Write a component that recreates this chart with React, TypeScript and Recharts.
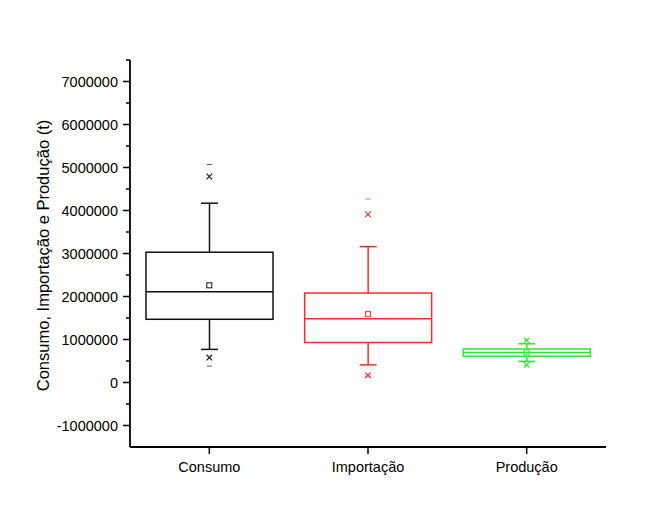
import { ComposedChart, Bar, Scatter, XAxis, YAxis } from "recharts";

// box plot statistics (t)
const categories = ["Consumo", "Importação", "Produção"];
const q1 = [1470000, 930000, 610000];
const median = [2110000, 1480000, 700000];
const q3 = [3030000, 2080000, 780000];
const whiskerLow = [770000, 410000, 490000];
const whiskerHigh = [4170000, 3160000, 900000];
const mean = [2260000, 1590000, 700000];
const p1 = [580000, 170000, 410000];
const p99 = [4790000, 3910000, 980000];
const minV = [380000, 150000, 400000];
const maxV = [5070000, 4270000, 990000];
const colors = ["#111111", "#ff2a2a", "#2ee62e"];

const yTicks = [-1000000, 0, 1000000, 2000000, 3000000, 4000000, 5000000, 6000000, 7000000];
const yMinorTicks = [-500000, 500000, 1500000, 2500000, 3500000, 4500000, 5500000, 6500000, 7500000];

const data = categories.map((name, i) => ({
  pos: i + 1,
  name,
  q1: q1[i],
  median: median[i],
  q3: q3[i],
  whiskerLow: whiskerLow[i],
  whiskerHigh: whiskerHigh[i],
  mean: mean[i],
  p1: p1[i],
  p99: p99[i],
  minV: minV[i],
  maxV: maxV[i],
  color: colors[i],
}));

const FONT = "'Liberation Sans', Arial, sans-serif";
const TICK_SIZE = 7;
const TICK_MARGIN = 5;
const SW = 1.5;
const AXIS_W = 1.8;

function BoxShape(props: any) {
  const { x, y, width, height, payload } = props;
  const top = Math.min(y, y + height);
  const bot = Math.max(y, y + height);
  const span = payload.whiskerHigh - payload.whiskerLow;
  const py = (v: number) => top + ((payload.whiskerHigh - v) / span) * (bot - top);
  const cx = x + width / 2;
  const cap = 8.5;
  const c = payload.color;
  return (
    <g stroke={c} strokeWidth={SW} fill="none">
      <rect x={x} y={py(payload.q3)} width={width} height={py(payload.q1) - py(payload.q3)} />
      <line x1={x} x2={x + width} y1={py(payload.median)} y2={py(payload.median)} />
      <line x1={cx} x2={cx} y1={top} y2={py(payload.q3)} />
      <line x1={cx} x2={cx} y1={py(payload.q1)} y2={bot} />
      <line x1={cx - cap} x2={cx + cap} y1={top} y2={top} />
      <line x1={cx - cap} x2={cx + cap} y1={bot} y2={bot} />
    </g>
  );
}

function SquareMark(props: any) {
  const { cx, cy, payload } = props;
  return <rect x={cx - 2.5} y={cy - 2.5} width={5} height={5} fill="none" stroke={payload.color} strokeWidth={1} />;
}

function CrossMark(props: any) {
  const { cx, cy, payload } = props;
  const s = 2.8;
  return (
    <g stroke={payload.color} strokeWidth={1.1}>
      <line x1={cx - s} y1={cy - s} x2={cx + s} y2={cy + s} />
      <line x1={cx - s} y1={cy + s} x2={cx + s} y2={cy - s} />
    </g>
  );
}

function DashMark(props: any) {
  const { cx, cy, payload } = props;
  return <line x1={cx - 2.5} x2={cx + 2.5} y1={cy} y2={cy} stroke={payload.color} strokeWidth={1} opacity={0.7} />;
}

function YTick(props: any) {
  const { x, y, payload } = props;
  const major = yTicks.includes(payload.value);
  const ax = x + TICK_MARGIN + TICK_SIZE;
  return (
    <g>
      <line x1={ax - (major ? TICK_SIZE : 4)} x2={ax} y1={y} y2={y} stroke="#000" strokeWidth={SW} />
      {major && (
        <text x={x} y={y} dy="0.36em" textAnchor="end" fontSize={14.5} fontFamily={FONT} fill="#000">
          {payload.value}
        </text>
      )}
    </g>
  );
}

function YLabel(props: any) {
  const { viewBox } = props;
  const cx = viewBox.x + 35;
  const cy = viewBox.y + viewBox.height / 2 + 2;
  return (
    <text
      x={cx}
      y={cy}
      transform={`rotate(-90, ${cx}, ${cy})`}
      textAnchor="middle"
      dominantBaseline="central"
      fontSize={16.5}
      fontFamily={FONT}
      fill="#000"
    >
      Consumo, Importação e Produção (t)
    </text>
  );
}

export default function App() {
  return (
    <div style={{ width: 631, height: 511, background: "#fff" }}>
      <ComposedChart width={631} height={511} data={data} margin={{ top: 52, right: 33, left: 0, bottom: 32 }}>
        <XAxis
          dataKey="pos"
          type="number"
          domain={[0.5, 3.5]}
          ticks={[1, 2, 3]}
          interval={0}
          tickFormatter={(v: number) => categories[v - 1]}
          tickSize={TICK_SIZE}
          tickMargin={8}
          height={40}
          axisLine={{ stroke: "#000", strokeWidth: AXIS_W }}
          tickLine={{ stroke: "#000", strokeWidth: SW }}
          tick={{ fill: "#000", fontSize: 14.5, fontFamily: FONT }}
        />
        <YAxis
          type="number"
          domain={[-1500000, 7500000]}
          allowDataOverflow
          ticks={[...yTicks, ...yMinorTicks].sort((a, b) => a - b)}
          interval={0}
          width={122}
          tickSize={TICK_SIZE}
          tickMargin={TICK_MARGIN}
          tickLine={false}
          axisLine={{ stroke: "#000", strokeWidth: AXIS_W }}
          tick={<YTick />}
          label={{ content: <YLabel /> }}
        />
        <Bar
          dataKey={(d: any) => [d.whiskerLow, d.whiskerHigh]}
          barSize={127}
          shape={<BoxShape />}
          isAnimationActive={false}
        />
        <Scatter dataKey="mean" shape={<SquareMark />} isAnimationActive={false} />
        <Scatter dataKey="p1" shape={<CrossMark />} isAnimationActive={false} />
        <Scatter dataKey="p99" shape={<CrossMark />} isAnimationActive={false} />
        <Scatter dataKey="minV" shape={<DashMark />} isAnimationActive={false} />
        <Scatter dataKey="maxV" shape={<DashMark />} isAnimationActive={false} />
      </ComposedChart>
    </div>
  );
}
